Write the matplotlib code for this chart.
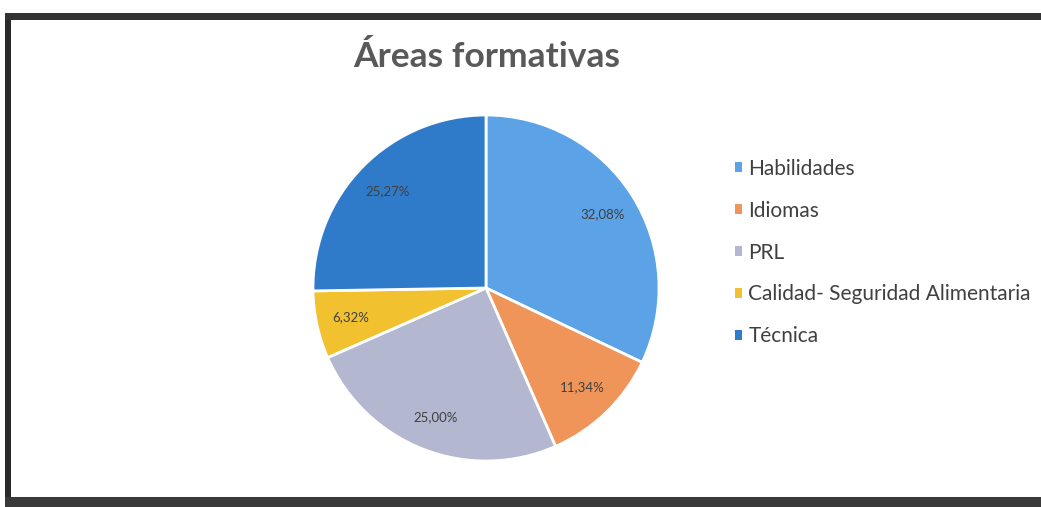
import matplotlib
matplotlib.use("Agg")
import matplotlib.pyplot as plt
from matplotlib.patches import Rectangle

categories = ["Habilidades", "Idiomas", "PRL", "Calidad- Seguridad Alimentaria", "Técnica"]
values = [32.08, 11.34, 25.00, 6.32, 25.27]
colors = ["#5BA3E6", "#F0955A", "#B3B7CF", "#F2C130", "#2F7BC9"]
title = "Áreas formativas"

W, H = 1041, 507
fig = plt.figure(figsize=(W / 100, H / 100), dpi=100)
fig.patch.set_facecolor("white")

# frame (scanned border)
fig.add_artist(Rectangle((5 / W, 0), 6 / W, 1 - 13 / H, transform=fig.transFigure,
                         facecolor="#2b2b2b", edgecolor="none"))
fig.add_artist(Rectangle((5 / W, 1 - 20 / H), 1, 7 / H, transform=fig.transFigure,
                         facecolor="#333333", edgecolor="none"))
fig.add_artist(Rectangle((5 / W, 0), 1, 10 / H, transform=fig.transFigure,
                         facecolor="#3a3a3a", edgecolor="none"))

fig.text(487 / W, 1 - 57 / H, title, ha="center", va="center",
         fontsize=25.5, fontweight="bold", color="#595959", family="Lato")

cx, cy, r = 486, 288, 173
ax = fig.add_axes([(cx - r) / W, (H - cy - r) / H, 2 * r / W, 2 * r / H])
pct_labels = [f"{v:.2f}".replace(".", ",") + "%" for v in values]
wedges, texts = ax.pie(values, colors=colors, startangle=90, counterclock=False,
                       labels=pct_labels, labeldistance=0.8,
                       wedgeprops=dict(edgecolor="white", linewidth=2))
for t in texts:
    t.set_ha("center")
    t.set_va("center")
    t.set_fontsize(9.5)
    t.set_color("#404040")
    t.set_family("Lato")
ax.set_aspect("equal")
ax.set_xlim(-1, 1)
ax.set_ylim(-1, 1)
ax.axis("off")

leg = fig.legend(wedges, categories, loc="upper left",
                 bbox_to_anchor=(716 / W, 1 - 140 / H), frameon=False,
                 prop={"family": "Lato", "size": 15},
                 handlelength=0.35, handleheight=0.35, handletextpad=0.3,
                 labelspacing=1.05)
for t in leg.get_texts():
    t.set_color("#404040")
for h in leg.legend_handles:
    h.set_edgecolor("none")

fig.savefig("out.png", dpi=100, facecolor="white")
